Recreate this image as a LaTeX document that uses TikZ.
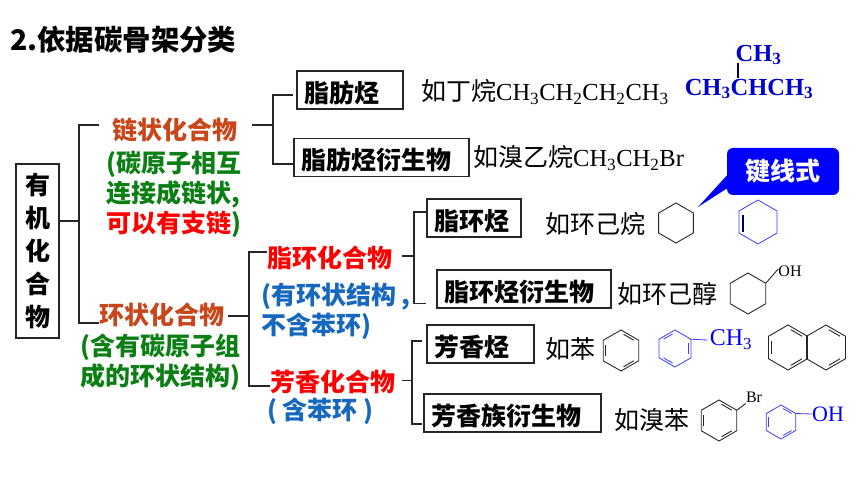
\documentclass[tikz,border=0pt]{standalone}
\usepackage{fontspec}
\usepackage{xcolor}
\setmainfont{Liberation Serif}
\newfontfamily\cjk{Noto Sans CJK SC}

\definecolor{chainred}{HTML}{C8461A}
\definecolor{notegreen}{HTML}{0B7F14}
\definecolor{noteblue}{HTML}{1568BE}
\definecolor{ringblue}{HTML}{3C3CFF}
\definecolor{formulablue}{HTML}{0000CC}

% 分子式
\newcommand{\sub}[1]{\textsubscript{#1}}
\newcommand{\chemtext}[1]{{\fontsize{24.5pt}{30pt}\selectfont #1}}
% 六元环: 中心, 半径, 样式
\newcommand{\hexring}[3]{\draw[#3] (#1) +(90:#2) -- +(30:#2) -- +(-30:#2) -- +(-90:#2) -- +(-150:#2) -- +(150:#2) -- cycle;}
% 环内双键: 中心, 半径, 起始角, 样式
\newcommand{\innerbond}[4]{\draw[#4] (#1) +(-#3-9:#2*0.8) -- +(-#3-51:#2*0.8);}

\tikzset{
    classbox/.style={draw=black!85,line width=1.5pt,inner xsep=7pt,inner ysep=0pt,minimum height=38pt,align=left,
        text height=25pt,text depth=0pt,font=\fontsize{25pt}{30pt}\selectfont\cjk\bfseries},
    typelabel/.style={inner sep=0pt,align=left,font=\fontsize{25pt}{30pt}\selectfont\cjk\bfseries},
    sample/.style={inner sep=0pt,anchor=west,font=\fontsize{25pt}{30pt}\selectfont},
    branch/.style={line width=1.3pt,black!85},
    ringline/.style={line width=0.9pt,black!85},
    bluering/.style={line width=0.8pt,ringblue}
}

\begin{document}
\begin{tikzpicture}[x=1pt,y=-1pt]
    \useasboundingbox (0,0) rectangle (860,484);

    % 标题
    \node[inner sep=0pt,anchor=west,font=\fontsize{28.4pt}{32pt}\selectfont\cjk\bfseries] (title) at (10,40) {2.依据碳骨架分类};

    % 根节点
    \node[draw=black!85,line width=1.5pt,minimum width=43pt,minimum height=174pt,inner sep=0pt,align=center,
        font=\fontsize{25pt}{33pt}\selectfont\cjk\bfseries] (organic) at (37.5,251) {有\\机\\化\\合\\物};

    % 两大类及说明
    \node[typelabel,text=chainred] (chain) at (174.5,130) {链状化合物};
    \node[typelabel,text=notegreen,anchor=north west] (chainnote) at (106,150.5) {(碳原子相互\\连接成链状,\\\textcolor{red}{可以有支链})};
    \node[typelabel,text=chainred] (ring) at (161.5,315) {环状化合物};
    \node[typelabel,text=notegreen,anchor=north west] (ringnote) at (80,334) {(含有碳原子组\\成的环状结构)};

    % 环状化合物的两个分支
    \node[typelabel,text=red] (alicyclic) at (329.5,258) {脂环化合物};
    \node[typelabel,text=noteblue,anchor=north west] (alicnote) at (261,283) {(有环状结构 ,\\不含苯环)};
    \node[typelabel,text=red] (aromatic) at (333,382) {芳香化合物};
    \node[typelabel,text=noteblue,anchor=west] (aronote) at (267,411) {( 含苯环 )};

    % 方框
    \node[classbox,text width=92pt] (aliph) at (350,90) {脂肪烃};
    \node[classbox,text width=161pt] (aliphder) at (381.5,157.5) {脂肪烃衍生物};
    \node[classbox,text width=80pt] (alic) at (474,218) {脂环烃};
    \node[classbox,text width=160pt] (alicder) at (524,289) {脂环烃衍生物};
    \node[classbox,text width=93pt] (arene) at (480.5,344) {芳香烃};
    \node[classbox,text width=163pt] (areneder) at (512.5,413) {芳香族衍生物};

    % 分支线
    \coordinate (rootfork) at (79,221);
    \coordinate (chainfork) at (273,125);
    \coordinate (ringfork) at (249,316);
    \coordinate (alicfork) at (414,256);
    \coordinate (arofork) at (412,380.5);

    \draw[branch] (rootfork -| organic.east) -- (rootfork);
    \draw[branch] ([xshift=-13pt,yshift=5pt]chain.west) -| (rootfork) |- ([yshift=-8pt]ring.west);
    \draw[branch] ([xshift=15pt,yshift=5pt]chain.east) -- (chainfork);
    \draw[branch] ([xshift=-3pt,yshift=-5pt]aliph.west) -| (chainfork) |- ([yshift=-6.5pt]aliphder.west);
    \draw[branch] ([xshift=4pt]ring.east |- ringfork) -- (ringfork);
    \draw[branch] ([yshift=6pt]alicyclic.west) -| (ringfork) |- ([yshift=-4pt]aromatic.west);
    \draw[branch] ([xshift=10pt,yshift=2pt]alicyclic.east) -- (alicfork);
    \draw[branch] ([yshift=6pt]alic.west) -| (alicfork) |- ([xshift=-10pt,yshift=5pt]alicder.south west);
    \draw[branch] ([xshift=6pt]aromatic.east |- arofork) -- (arofork);
    \draw[branch] ([yshift=3pt,xshift=-4pt]arene.west) -| (arofork) |- ([yshift=-11pt,xshift=-1pt]areneder.west);

    % 举例
    \node[sample] (butane) at (421,92) {{\cjk 如丁烷}\chemtext{CH\sub{3}CH\sub{2}CH\sub{2}CH\sub{3}}};
    \node[sample] (bromoeth) at (473,158) {{\cjk 如溴乙烷}\chemtext{CH\sub{3}CH\sub{2}Br}};
    \node[sample] (cyclohex) at (545,224) {\cjk 如环己烷};
    \node[sample] (cyclool) at (617,294) {\cjk 如环己醇};
    \node[sample] (benzene) at (545,349) {\cjk 如苯};
    \node[sample] (bromoben) at (614,420) {\cjk 如溴苯};

    % 异丁烷
    \node[inner sep=0pt,text=formulablue,font=\fontsize{24.5pt}{28pt}\selectfont\bfseries] (isotop) at (758.5,55) {CH\sub{3}};
    \node[inner sep=0pt,text=formulablue,font=\fontsize{24.5pt}{28pt}\selectfont\bfseries] (isomain) at (749,89) {CH\sub{3}CHCH\sub{3}};
    \draw[line width=1.3pt,black!70!blue] (738,63) -- (738,78);

    % 键线式说明框
    \node[fill=blue,rounded corners=6pt,minimum width=112pt,minimum height=47pt,inner sep=0pt,text=white,
        font=\fontsize{25pt}{30pt}\selectfont\cjk\bfseries] (bondnote) at (783,171.5) {键线式};
    \coordinate (bondtip) at (698,207);
    \fill[blue] ([yshift=-4pt]bondnote.west) -- (bondtip) -- ([yshift=-17pt]bondnote.west) -- cycle;

    % 环己烷和环己烯
    \coordinate (hexa) at (676,223);
    \coordinate (hexb) at (758,222);
    \hexring{hexa}{20}{ringline}
    \hexring{hexb}{22}{bluering}
    \draw[line width=1.2pt,black!70!blue] (743,215) -- (743,232);

    % 环己醇
    \coordinate (hexol) at (748,293.5);
    \hexring{hexol}{20.5}{ringline}
    \node[inner sep=0pt,font=\fontsize{16pt}{18pt}\selectfont] (oha) at (790,271) {OH};
    \draw[ringline] (hexol) +(-30:20.5) -- ([yshift=2pt]oha.west);

    % 苯
    \coordinate (benz) at (621,350.5);
    \hexring{benz}{20.5}{ringline}
    \foreach \ang in {30,150,270} {\innerbond{benz}{20.5}{\ang}{ringline}}

    % 甲苯
    \coordinate (tol) at (675,348.5);
    \hexring{tol}{18.5}{bluering}
    \foreach \ang in {90,210,330} {\innerbond{tol}{18.5}{\ang}{bluering}}
    \node[inner sep=0pt,text=blue,font=\fontsize{24pt}{28pt}\selectfont] (methyl) at (731,340) {CH\sub{3}};
    \draw[bluering] (tol) +(-30:18.5) -- ([xshift=-2pt]methyl.west);

    % 萘
    \coordinate (naphl) at (788,347.5);
    \coordinate (naphr) at (826,347.5);
    \hexring{naphl}{22.5}{ringline}
    \hexring{naphr}{22.5}{ringline}
    \foreach \ang in {30,150,270} {\innerbond{naphl}{22.5}{\ang}{ringline}}
    \foreach \ang in {30,270} {\innerbond{naphr}{22.5}{\ang}{ringline}}

    % 溴苯
    \coordinate (brben) at (719,420.5);
    \hexring{brben}{20.5}{ringline}
    \foreach \ang in {30,150,270} {\innerbond{brben}{20.5}{\ang}{ringline}}
    \node[inner sep=0pt,font=\fontsize{16pt}{18pt}\selectfont] (brom) at (754,397) {Br};
    \draw[ringline] (brben) +(-30:20.5) -- ([yshift=-1pt]brom.south west);

    % 苯酚
    \coordinate (phen) at (781,422);
    \hexring{phen}{17}{bluering}
    \foreach \ang in {30,150,270} {\innerbond{phen}{17}{\ang}{bluering}}
    \node[inner sep=0pt,text=blue,font=\fontsize{22pt}{26pt}\selectfont] (ohb) at (828,414) {OH};
    \draw[bluering] (phen) +(-30:17) -- (ohb.west);
\end{tikzpicture}
\end{document}
